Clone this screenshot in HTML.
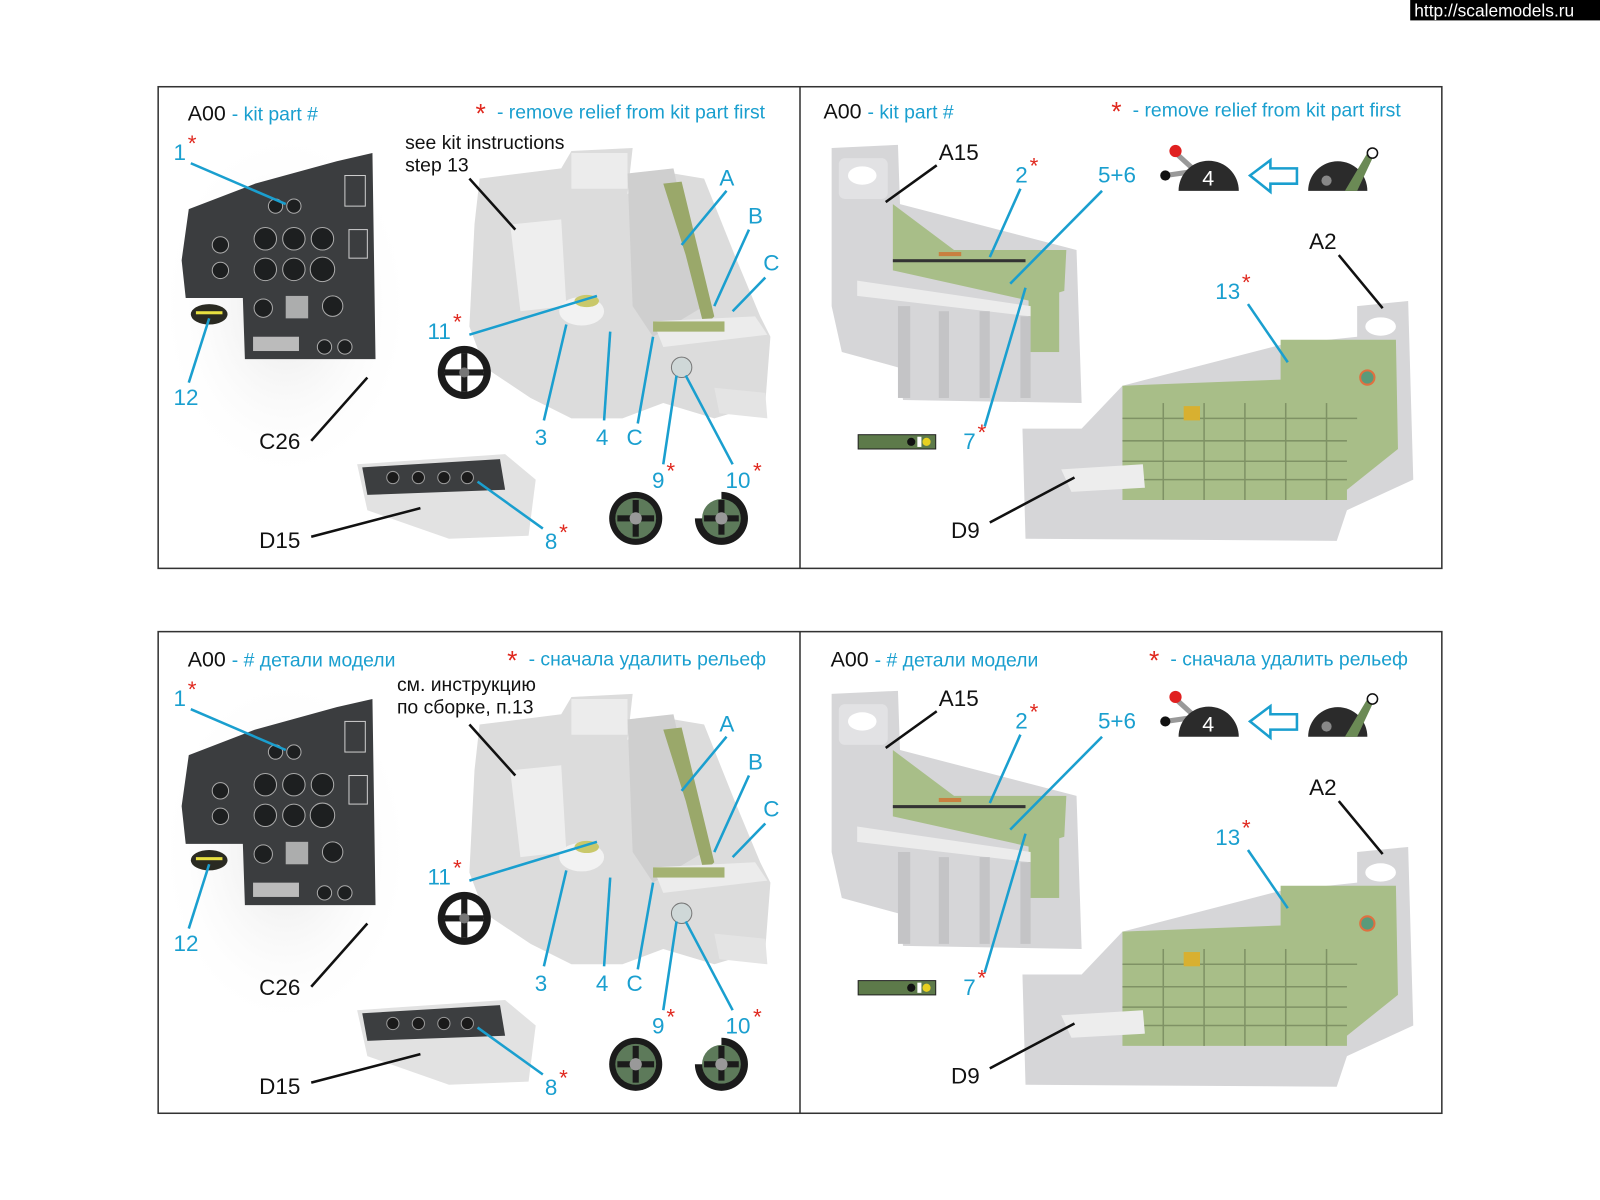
<!DOCTYPE html>
<html><head><meta charset="utf-8"><style>
html,body{margin:0;padding:0;background:#fff;width:1600px;height:1200px;overflow:hidden}
svg{display:block}
text{font-family:"Liberation Sans","DejaVu Sans",sans-serif}
.b{fill:#1a9fcf}.k{fill:#111}.r{fill:#e0281e}
.lb{stroke:#1a9fcf;stroke-width:2.5}.lk{stroke:#111;stroke-width:2.5}
</style></head><body>
<svg width="1600" height="1200" viewBox="0 0 1568 1176" xmlns="http://www.w3.org/2000/svg">
<defs>
<radialGradient id="fade" cx="50%" cy="50%" r="55%"><stop offset="0" stop-color="#e6e6e6"/><stop offset="1" stop-color="#fff" stop-opacity="0"/></radialGradient>
<g id="p">
 <!-- left panel graphics -->
 <rect x="165" y="140" width="230" height="320" fill="url(#fade)"/>
 <polygon points="178,255 185,205 250,180 330,158 365,150 368,352 240,352 238,292 182,292" fill="#3b3d3f"/>
 <g fill="#1d1f20" stroke="#aaa" stroke-width="1">
  <circle cx="260" cy="234" r="11"/><circle cx="288" cy="234" r="11"/><circle cx="316" cy="234" r="11"/>
  <circle cx="260" cy="264" r="11"/><circle cx="288" cy="264" r="11"/><circle cx="316" cy="264" r="12"/>
  <circle cx="216" cy="240" r="8"/><circle cx="216" cy="265" r="8"/><circle cx="258" cy="302" r="9"/><circle cx="326" cy="300" r="10"/>
  <circle cx="270" cy="202" r="7"/><circle cx="288" cy="202" r="7"/><circle cx="318" cy="340" r="7"/><circle cx="338" cy="340" r="7"/>
 </g>
 <rect x="338" y="172" width="20" height="30" fill="none" stroke="#ccc"/>
 <rect x="342" y="225" width="18" height="28" fill="none" stroke="#ccc"/>
 <rect x="280" y="290" width="22" height="22" fill="#ddd" opacity=".7"/>
 <rect x="248" y="330" width="45" height="14" fill="#bbb"/>
 <ellipse cx="205" cy="308" rx="18" ry="10" fill="#2a2a22"/><rect x="192" y="305" width="26" height="3" fill="#e8e040"/>
 <!-- seat -->
 <polygon points="470,175 550,165 560,148 620,145 615,190 660,170 690,175 720,250 745,310 755,330 750,395 700,410 650,395 610,410 560,410 520,390 475,360 460,320 465,220" fill="#dcdcdc"/>
 <polygon points="500,220 550,215 555,300 510,305" fill="#eeeeee"/>
 <polygon points="560,150 615,150 615,185 560,185" fill="#ececec"/>
 <polygon points="615,170 660,165 690,300 640,330 620,300" fill="#cfcfcf"/>
 <polygon points="650,180 668,178 700,310 690,320 672,250" fill="#9aa86a"/>
 <polygon points="640,315 740,310 752,328 650,340" fill="#ececec"/>
 <rect x="640" y="315" width="70" height="10" fill="#a4b272"/>
 <ellipse cx="570" cy="305" rx="22" ry="14" fill="#f2f2f2"/><ellipse cx="575" cy="295" rx="12" ry="6" fill="#c9c86a"/>
 <circle cx="668" cy="360" r="10" fill="#cfd8d8" stroke="#777"/>
 <polygon points="700,380 750,385 752,410 705,405" fill="#e4e4e4"/>
 <!-- wheels -->
 <circle cx="455" cy="365" r="26" fill="#1b1b1b"/><circle cx="455" cy="365" r="19" fill="#fff"/>
 <rect x="436" y="362" width="38" height="6" fill="#1b1b1b"/><rect x="452" y="346" width="6" height="38" fill="#1b1b1b"/><circle cx="455" cy="365" r="5" fill="#777"/>
 <g><circle cx="623" cy="508" r="26" fill="#1b1b1b"/><circle cx="623" cy="508" r="20" fill="#5d7a5a"/><rect x="605" y="505" width="36" height="6" fill="#1b1b1b"/><rect x="620" y="490" width="6" height="36" fill="#1b1b1b"/><circle cx="623" cy="508" r="6" fill="#999"/></g>
 <g><path d="M707,482 A26,26 0 1 1 681,508 L707,508 Z" fill="#1b1b1b"/><circle cx="707" cy="508" r="19" fill="#5d7a5a"/><rect x="690" y="505" width="34" height="6" fill="#1b1b1b"/><rect x="704" y="490" width="6" height="34" fill="#1b1b1b"/><circle cx="707" cy="508" r="6" fill="#999"/></g>
 <!-- D15 -->
 <polygon points="350,455 495,445 525,470 518,525 440,528 360,500" fill="#e2e2e2"/>
 <polygon points="355,458 490,450 495,480 360,485" fill="#3c3e40"/>
 <g fill="#1a1a1a" stroke="#999"><circle cx="385" cy="468" r="6"/><circle cx="410" cy="468" r="6"/><circle cx="435" cy="468" r="6"/><circle cx="458" cy="468" r="6"/></g>
 <!-- right: A15 -->
 <polygon points="815,145 880,142 882,200 1055,245 1060,395 885,392 880,360 825,345 815,300" fill="#d6d6d8"/>
 <rect x="822" y="155" width="48" height="40" rx="6" fill="#e2e2e4"/><ellipse cx="845" cy="172" rx="14" ry="9" fill="#fff"/>
 <polygon points="875,200 935,245 1045,245 1043,285 1010,295 875,265" fill="#a8be88"/>
 <rect x="1008" y="260" width="30" height="85" fill="#a8be88"/>
 <rect x="875" y="254" width="130" height="3" fill="#333"/>
 <rect x="920" y="247" width="22" height="4" fill="#c88040"/>
 <polygon points="840,275 1010,300 1010,310 840,290" fill="#ececec"/>
 <g fill="#c4c4c6"><rect x="880" y="300" width="12" height="90"/><rect x="920" y="305" width="10" height="85"/><rect x="960" y="305" width="10" height="85"/><rect x="1000" y="310" width="10" height="80"/></g>
 <!-- A2 -->
 <polygon points="1330,300 1380,295 1385,470 1320,500 1310,530 1005,528 1002,420 1060,420 1100,378 1255,338 1330,330" fill="#d6d6d8"/>
 <ellipse cx="1353" cy="320" rx="15" ry="9" fill="#fff"/>
 <polygon points="1100,378 1255,372 1255,333 1368,333 1370,440 1320,480 1320,490 1100,490" fill="#a8be88"/>
 <g stroke="#7f9265" stroke-width="1.5" fill="none">
  <line x1="1100" y1="410" x2="1330" y2="410"/><line x1="1100" y1="432" x2="1320" y2="432"/><line x1="1100" y1="452" x2="1320" y2="452"/><line x1="1100" y1="470" x2="1320" y2="470"/>
  <line x1="1140" y1="395" x2="1140" y2="490"/><line x1="1180" y1="395" x2="1180" y2="490"/><line x1="1220" y1="395" x2="1220" y2="490"/><line x1="1260" y1="395" x2="1260" y2="490"/><line x1="1300" y1="395" x2="1300" y2="490"/>
 </g>
 <rect x="1160" y="398" width="16" height="14" fill="#d8b030"/>
 <circle cx="1340" cy="370" r="7" fill="#5a9a7a" stroke="#e07040" stroke-width="2"/>
 <polygon points="1040,460 1120,455 1122,478 1050,482" fill="#ededed"/>
 <!-- icons -->
 <line x1="1150" y1="148" x2="1172" y2="168" stroke="#999" stroke-width="5"/><circle cx="1152" cy="148" r="6" fill="#e02020"/>
 <line x1="1142" y1="172" x2="1170" y2="168" stroke="#999" stroke-width="5"/><circle cx="1142" cy="172" r="5" fill="#111"/>
 <path d="M1155,187 A29,29 0 0 1 1214,187 Z" fill="#2b2b2b"/>
 <text x="1184" y="182" font-size="21" fill="#fff" text-anchor="middle">4</text>
 <polygon points="1225,172 1245,157 1245,165 1271,165 1271,180 1245,180 1245,188" fill="#fff" stroke="#1a9fcf" stroke-width="2.5"/>
 <path d="M1282,187 A29,29 0 0 1 1340,187 Z" fill="#2b2b2b"/>
 <polygon points="1318,187 1340,150 1346,153 1330,187" fill="#6b8a55"/>
 <circle cx="1345" cy="150" r="5" fill="#fff" stroke="#111" stroke-width="1.5"/>
 <circle cx="1300" cy="177" r="5" fill="#888"/>
 <rect x="841" y="426" width="76" height="14" fill="#5d7a4a" stroke="#222"/>
 <circle cx="893" cy="433" r="4" fill="#111"/><circle cx="908" cy="433" r="4" fill="#e8d020"/><rect x="899" y="428" width="4" height="10" fill="#fff"/>
 <!-- leader lines -->
 <line class="lb" x1="187" y1="160" x2="280" y2="200"/>
 <line class="lb" x1="185" y1="375" x2="205" y2="312"/>
 <line class="lb" x1="460" y1="328" x2="585" y2="290"/>
 <line class="lb" x1="533" y1="412" x2="555" y2="318"/>
 <line class="lb" x1="592" y1="412" x2="598" y2="325"/>
 <line class="lb" x1="625" y1="415" x2="640" y2="330"/>
 <line class="lb" x1="650" y1="455" x2="663" y2="368"/>
 <line class="lb" x1="718" y1="455" x2="672" y2="368"/>
 <line class="lb" x1="712" y1="187" x2="668" y2="240"/>
 <line class="lb" x1="734" y1="225" x2="700" y2="300"/>
 <line class="lb" x1="750" y1="272" x2="718" y2="305"/>
 <line class="lb" x1="532" y1="518" x2="468" y2="472"/>
 <line class="lk" x1="460" y1="175" x2="505" y2="225"/>
 <line class="lk" x1="305" y1="432" x2="360" y2="370"/>
 <line class="lk" x1="305" y1="526" x2="412" y2="498"/>
 <line class="lk" x1="918" y1="162" x2="868" y2="198"/>
 <line class="lb" x1="1000" y1="185" x2="970" y2="252"/>
 <line class="lb" x1="1080" y1="187" x2="990" y2="278"/>
 <line class="lb" x1="965" y1="418" x2="1005" y2="282"/>
 <line class="lb" x1="1223" y1="298" x2="1262" y2="355"/>
 <line class="lk" x1="1312" y1="250" x2="1355" y2="302"/>
 <line class="lk" x1="970" y1="512" x2="1053" y2="468"/>
 <!-- labels -->
 <g font-size="22">
  <text class="b" x="170" y="157">1</text><text class="r" x="184" y="148">*</text>
  <text class="b" x="170" y="397">12</text>
  <text class="k" x="254" y="440">C26</text>
  <text class="k" x="254" y="537">D15</text>
  <text class="b" x="419" y="332">11</text><text class="r" x="444" y="323">*</text>
  <text class="b" x="524" y="436">3</text><text class="b" x="584" y="436">4</text><text class="b" x="614" y="436">C</text>
  <text class="b" x="639" y="478">9</text><text class="r" x="653" y="469">*</text>
  <text class="b" x="711" y="478">10</text><text class="r" x="738" y="469">*</text>
  <text class="b" x="705" y="182">A</text><text class="b" x="733" y="219">B</text><text class="b" x="748" y="265">C</text>
  <text class="b" x="534" y="538">8</text><text class="r" x="548" y="529">*</text>
  <text class="k" x="920" y="157">A15</text>
  <text class="b" x="995" y="179">2</text><text class="r" x="1009" y="170">*</text>
  <text class="b" x="1076" y="179">5+6</text>
  <text class="b" x="944" y="440">7</text><text class="r" x="958" y="431">*</text>
  <text class="b" x="1191" y="293">13</text><text class="r" x="1217" y="284">*</text>
  <text class="k" x="1283" y="244">A2</text>
  <text class="k" x="932" y="527">D9</text>
 </g>
</g>
</defs>
<rect x="1382" y="0" width="186" height="20" fill="#000"/>
<text x="1386" y="16" font-size="17" fill="#fff">http://scalemodels.ru</text>
<g fill="none" stroke="#333" stroke-width="1.5">
 <rect x="155" y="85" width="1258" height="472"/><line x1="784" y1="85" x2="784" y2="557"/>
 <rect x="155" y="619" width="1258" height="472"/><line x1="784" y1="619" x2="784" y2="1091"/>
</g>
<use href="#p"/>
<use href="#p" transform="translate(0,535)"/>
<!-- headers top -->
<g font-size="19">
 <text x="184" y="118" class="k" font-size="21">A00 <tspan class="b" font-size="19">- kit part #</tspan></text>
 <text x="466" y="120" class="r" font-size="26">*</text><text x="487" y="116" class="b">- remove relief from kit part first</text>
 <text x="397" y="146" class="k">see kit instructions</text><text x="397" y="168" class="k">step 13</text>
 <text x="807" y="116" class="k" font-size="21">A00 <tspan class="b" font-size="19">- kit part #</tspan></text>
 <text x="1089" y="118" class="r" font-size="26">*</text><text x="1110" y="114" class="b">- remove relief from kit part first</text>
</g>
<g font-size="19">
 <text x="184" y="653" class="k" font-size="21">A00 <tspan class="b" font-size="19">- # детали модели</tspan></text>
 <text x="497" y="656" class="r" font-size="26">*</text><text x="518" y="652" class="b">- сначала удалить рельеф</text>
 <text x="389" y="677" class="k">см. инструкцию</text><text x="389" y="699" class="k">по сборке, п.13</text>
 <text x="814" y="653" class="k" font-size="21">A00 <tspan class="b" font-size="19">- # детали модели</tspan></text>
 <text x="1126" y="656" class="r" font-size="26">*</text><text x="1147" y="652" class="b">- сначала удалить рельеф</text>
</g>
</svg>
</body></html>
